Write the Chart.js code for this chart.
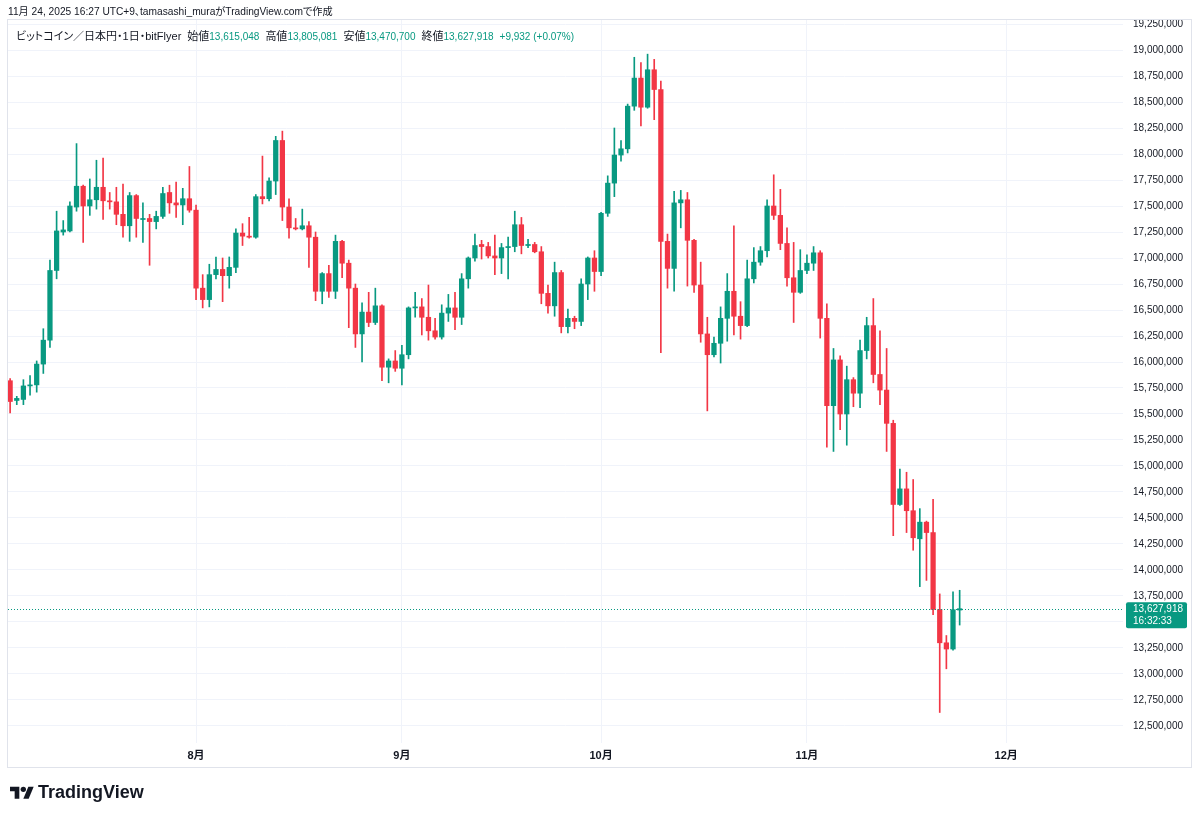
<!DOCTYPE html>
<html>
<head>
<meta charset="utf-8">
<script src="https://cdn.jsdelivr.net/npm/chart.js"></script>
<style>
  html, body { margin:0; padding:0; background:#fff; }
  #wrap { position:relative; width:1200px; height:818px; overflow:hidden; }
  #chart { position:absolute; left:0; top:0; }
  .hdr { position:absolute; white-space:nowrap; color:#131722; font-family:"Liberation Sans","Noto Sans CJK JP",sans-serif; line-height:14px; font-feature-settings:"palt" 1; }
  #line1 { left:8px; top:5px; font-size:10.2px; }
  #line2 { left:16px; top:29px; font-size:11px; }
  .v { color:#089981; font-size:10px; }
  .g { margin-left:6px; }
  #logo { position:absolute; left:10px; top:782px; height:20px; display:flex; align-items:center; font-family:"Liberation Sans",sans-serif; font-weight:bold; font-size:18px; color:#131722; }
  #logo svg { margin-right:4px; }
</style>
</head>
<body>
<div id="wrap">
  <canvas id="chart" width="1200" height="818"></canvas>
  <div class="hdr" id="line1">11月 24, 2025 16:27 UTC+9、tamasashi_muraがTradingView.comで作成</div>
  <div class="hdr" id="line2">ビットコイン／日本円・1日・bitFlyer<span class="g">始値</span><span class="v">13,615,048</span><span class="g">高値</span><span class="v">13,805,081</span><span class="g">安値</span><span class="v">13,470,700</span><span class="g">終値</span><span class="v">13,627,918</span><span class="g v">+9,932 (+0.07%)</span></div>
  <div id="logo"><svg width="24" height="16" viewBox="0 0 36 24"><path fill="#131722" d="M14 22H7V11H0V4h14v18z"/><circle fill="#131722" cx="20" cy="8" r="4"/><path fill="#131722" d="M28 22h-8l7.5-18h8L28 22z"/></svg>TradingView</div>
</div>

<script>
// daily candles, 2025-07-04 .. 2025-11-24 (JPY)
const openPrices = [
  15820000,15630000,15640000,15770000,15780000,15980000,16210000,16880000,17250000,17260000,
  17490000,17690000,17500000,17560000,17680000,17550000,17540000,17420000,17310000,17600000,
  17370000,17380000,17350000,17400000,17630000,17530000,17510000,17570000,17460000,16710000,
  16600000,16840000,16890000,16830000,16910000,17240000,17210000,17200000,17590000,17570000,
  17740000,18130000,17490000,17290000,17280000,17310000,17200000,16680000,16850000,16680000,
  17160000,16950000,16710000,16270000,16480000,16380000,16540000,15950000,16010000,15940000,
  16070000,16520000,16530000,16430000,16300000,16240000,16470000,16520000,16430000,16800000,
  17000000,17130000,17110000,17020000,17000000,17100000,17110000,17320000,17120000,17130000,
  17060000,16660000,16540000,16860000,16340000,16420000,16390000,16750000,17000000,16870000,
  17430000,17720000,17990000,18050000,18460000,18730000,18450000,18810000,18620000,17160000,
  16900000,17530000,17560000,17170000,16740000,16270000,16070000,16180000,16420000,16680000,
  16440000,16350000,16800000,16960000,17070000,17500000,17410000,17140000,16810000,16670000,
  16880000,16950000,17050000,16420000,15580000,16020000,15500000,15830000,15700000,16110000,
  16350000,15880000,15730000,15410000,14630000,14780000,14570000,14300000,14460000,14360000,
  13620000,13300000,13240000,13615048
];
const highPrices = [
  15840000,15670000,15830000,15870000,16010000,16320000,16980000,17450000,17360000,17540000,
  18100000,17700000,17760000,17940000,17960000,17630000,17680000,17710000,17630000,17610000,
  17530000,17420000,17450000,17680000,17700000,17730000,17670000,17880000,17510000,16840000,
  16940000,17010000,17000000,17010000,17280000,17330000,17390000,17610000,17980000,17770000,
  18170000,18220000,17570000,17380000,17470000,17350000,17250000,16860000,16930000,17220000,
  17170000,16980000,16750000,16570000,16670000,16710000,16550000,16030000,16110000,16160000,
  16530000,16670000,16610000,16740000,16420000,16550000,16650000,16670000,16850000,17010000,
  17230000,17170000,17150000,17220000,17140000,17200000,17450000,17390000,17180000,17150000,
  17110000,16740000,16960000,16880000,16510000,16440000,16800000,17010000,17070000,17440000,
  17790000,18250000,18130000,18480000,18930000,18880000,18960000,18910000,18700000,17230000,
  17640000,17650000,17630000,17180000,16960000,16430000,16240000,16530000,16850000,17310000,
  16580000,16980000,17100000,17110000,17560000,17800000,17660000,17290000,17150000,17080000,
  17030000,17110000,17070000,16560000,16130000,16060000,15960000,15850000,16210000,16430000,
  16610000,16300000,16130000,15440000,14970000,14940000,14870000,14590000,14470000,14680000,
  13770000,13370000,13790000,13805081
];
const lowPrices = [
  15510000,15590000,15590000,15680000,15710000,15890000,16140000,16800000,17220000,17250000,
  17450000,17150000,17410000,17470000,17370000,17470000,17320000,17200000,17160000,17200000,
  17150000,16930000,17280000,17380000,17430000,17390000,17320000,17440000,16600000,16520000,
  16530000,16800000,16580000,16710000,16860000,17120000,17190000,17190000,17520000,17550000,
  17610000,17360000,17190000,17270000,17270000,16910000,16590000,16560000,16620000,16610000,
  16810000,16330000,16140000,16000000,16340000,16360000,15820000,15800000,15910000,15780000,
  16030000,16430000,16260000,16210000,16220000,16220000,16390000,16310000,16360000,16710000,
  16970000,16990000,17000000,16840000,16850000,16800000,17060000,17040000,17100000,17050000,
  16560000,16470000,16440000,16280000,16280000,16320000,16350000,16600000,16680000,16830000,
  17400000,17590000,17930000,18010000,18420000,18270000,18440000,18330000,16090000,16710000,
  16680000,17290000,16730000,16670000,16190000,15530000,16050000,15990000,16200000,16260000,
  16220000,16340000,16760000,16930000,17010000,17370000,17080000,16730000,16380000,16660000,
  16850000,16880000,16230000,15180000,15140000,15350000,15200000,15570000,15560000,16030000,
  15800000,15590000,15140000,14330000,14620000,14360000,14190000,13840000,13900000,13570000,
  12630000,13050000,13230000,13470700
];
const closePrices = [
  15620000,15650000,15770000,15780000,15980000,16210000,16880000,17260000,17270000,17500000,
  17690000,17500000,17560000,17680000,17550000,17540000,17420000,17310000,17600000,17380000,
  17380000,17350000,17400000,17620000,17530000,17510000,17570000,17460000,16710000,16600000,
  16840000,16890000,16830000,16910000,17240000,17210000,17200000,17590000,17570000,17740000,
  18130000,17490000,17290000,17280000,17310000,17200000,16680000,16850000,16680000,17160000,
  16950000,16710000,16270000,16480000,16380000,16540000,15950000,16010000,15940000,16070000,
  16520000,16530000,16430000,16300000,16240000,16470000,16520000,16430000,16800000,17000000,
  17120000,17110000,17020000,17000000,17100000,17110000,17320000,17120000,17130000,17060000,
  16660000,16540000,16860000,16340000,16420000,16390000,16750000,17000000,16870000,17430000,
  17720000,17990000,18050000,18460000,18730000,18450000,18810000,18620000,17160000,16900000,
  17530000,17560000,17170000,16740000,16270000,16070000,16180000,16420000,16680000,16440000,
  16350000,16800000,16960000,17070000,17500000,17410000,17140000,16810000,16670000,16880000,
  16950000,17050000,16420000,15580000,16020000,15500000,15830000,15700000,16110000,16350000,
  15880000,15730000,15410000,14630000,14780000,14570000,14310000,14460000,14360000,13620000,
  13300000,13240000,13617986,13627918
];

// month starts, counted in days from 2025-07-04
const monthTickDays = [28, 59, 89, 120, 150];
const monthLabels = ['8月', '9月', '10月', '11月', '12月'];

const lastPrice = 13627918;
const lastPriceTime = '16:32:33';

const UP = '#089981';
const DOWN = '#f23645';
const GRID = '#f0f3fa';
const TEXT = '#131722';
const FONT = "'Liberation Sans', 'Noto Sans CJK JP', sans-serif";

const dayIdx = closePrices.map((c, i) => i);
const bodies = dayIdx.map(i => ({ x: i, y: [openPrices[i], closePrices[i]] }));
const wicks = dayIdx.map(i => ({ x: i, y: [lowPrices[i], highPrices[i]] }));
const candleColors = dayIdx.map(i => closePrices[i] >= openPrices[i] ? UP : DOWN);

const tvExtras = {
  id: 'tvExtras',
  afterDatasetsDraw(chart) {
    const c = chart.ctx;
    const area = chart.chartArea;
    const y = chart.scales.y.getPixelForValue(lastPrice);
    c.save();
    c.strokeStyle = UP;
    c.lineWidth = 1;
    c.setLineDash([1, 2]);
    c.beginPath();
    c.moveTo(area.left, Math.round(y) + 0.5);
    c.lineTo(area.right, Math.round(y) + 0.5);
    c.stroke();
    c.restore();
  },
  afterDraw(chart) {
    const c = chart.ctx;
    const area = chart.chartArea;
    const y = chart.scales.y.getPixelForValue(lastPrice);
    c.save();
    // frame
    c.strokeStyle = '#e0e3eb';
    c.lineWidth = 1;
    c.strokeRect(area.left - 0.5, area.top - 0.5, 1191.5 - area.left + 0.5, 767.5 - area.top + 0.5);
    // last price tag
    c.fillStyle = UP;
    c.beginPath();
    c.roundRect(area.right + 3, y - 6.5, 61, 26, 2);
    c.fill();
    c.fillStyle = '#ffffff';
    c.font = '10px ' + FONT;
    c.textBaseline = 'middle';
    c.textAlign = 'left';
    c.fillText(lastPrice.toLocaleString('en-US'), area.right + 10, y + 0.5);
    c.fillText(lastPriceTime, area.right + 10, y + 12.5);
    c.restore();
  }
};

new Chart(document.getElementById('chart'), {
  type: 'bar',
  data: {
    datasets: [
      {
        data: wicks,
        backgroundColor: candleColors,
        barThickness: 1,
        grouped: false,
        order: 2
      },
      {
        data: bodies,
        backgroundColor: candleColors,
        barThickness: 4.6,
        minBarLength: 1,
        grouped: false,
        order: 1
      }
    ]
  },
  options: {
    responsive: false,
    animation: false,
    layout: { padding: { left: 8, right: 9, top: 20, bottom: 51 } },
    plugins: { legend: { display: false }, tooltip: { enabled: false } },
    datasets: { bar: { borderWidth: 0, borderSkipped: false } },
    scales: {
      x: {
        type: 'linear',
        offset: false,
        min: -0.32,
        max: 167.6,
        afterBuildTicks: s => { s.ticks = monthTickDays.map(v => ({ value: v })); },
        afterFit: s => { s.height = 24; },
        grid: { color: GRID, drawTicks: false, offset: false },
        border: { display: false },
        ticks: {
          autoSkip: false,
          maxRotation: 0,
          padding: 6,
          color: TEXT,
          font: { family: FONT, size: 11, weight: 'bold' },
          callback: (v, i) => monthLabels[i]
        }
      },
      y: {
        position: 'right',
        min: 12336538,
        max: 19288462,
        afterBuildTicks: s => {
          const t = [];
          for (let v = 12500000; v <= 19250000; v += 250000) t.push({ value: v });
          s.ticks = t;
        },
        afterFit: s => { s.width = 68; },
        grid: { color: GRID, drawTicks: false },
        border: { display: false },
        ticks: {
          padding: 10,
          color: TEXT,
          font: { family: FONT, size: 10 },
          callback: v => v.toLocaleString('en-US')
        }
      }
    }
  },
  plugins: [tvExtras]
});
</script>
</body>
</html>
